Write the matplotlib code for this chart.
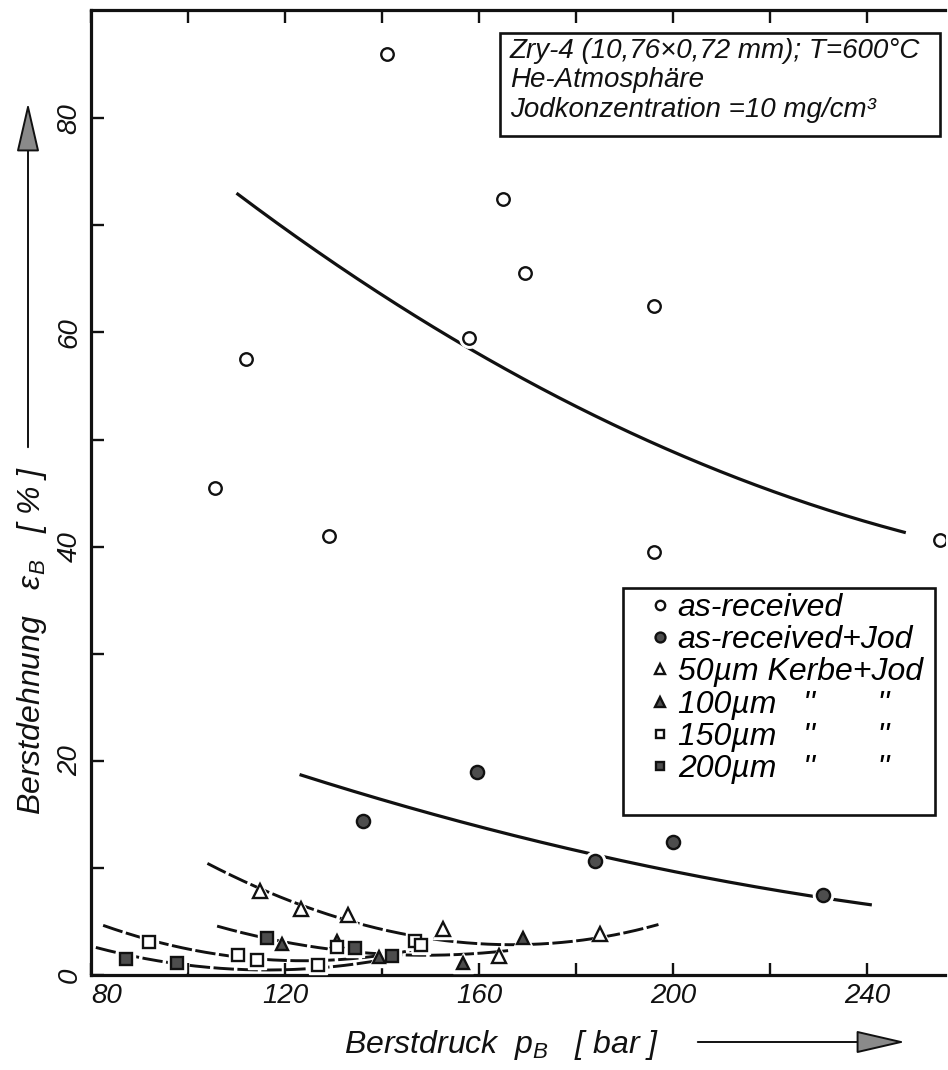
import numpy as np
import matplotlib
matplotlib.use('Agg')
import matplotlib.pyplot as plt
from matplotlib import font_manager as fm
from matplotlib.patches import Rectangle

def has_font(name):
    try:
        fm.findfont(fm.FontProperties(family=name), fallback_to_default=False)
        return True
    except Exception:
        return False

NARROW_OK = has_font('Liberation Sans Narrow')
print('narrow available:', NARROW_OK)

plt.rcParams['font.family'] = ['Liberation Sans', 'DejaVu Sans']
plt.rcParams['font.style'] = 'italic'
plt.rcParams['mathtext.fontset'] = 'custom'
plt.rcParams['mathtext.it'] = 'Liberation Sans:italic'
plt.rcParams['mathtext.rm'] = 'Liberation Sans:italic'
plt.rcParams['mathtext.default'] = 'it'

# ---------------- data ----------------
asr_x = [105.5, 112, 129, 141, 158, 165, 169.5, 196, 196, 255]
asr_y = [45.5, 57.5, 41.0, 86.0, 59.5, 72.5, 65.5, 62.5, 39.5, 40.6]
asr_curve_x = [110, 158, 248]
asr_curve_y = [73.0, 58.5, 41.3]

jod_x = [136, 159.5, 184, 200, 231]
jod_y = [14.4, 19.0, 10.6, 12.4, 7.5]
jod_curve_x = [123, 141, 184, 201, 241]
jod_curve_y = [18.6, 16.4, 11.3, 9.4, 6.6]

k50_x = [114.9, 123.4, 133, 152.6, 164.1, 185]
k50_y = [7.8, 6.2, 5.6, 4.3, 1.8, 3.8]
k50_curve_x = [104, 120, 135, 150, 165, 182, 197]
k50_curve_y = [10.5, 6.9, 4.9, 3.5, 2.9, 3.1, 4.8]

k100_x = [119.3, 130.7, 139.3, 156.8, 169]
k100_y = [2.85, 3.2, 1.7, 1.15, 3.5]
k100_curve_x = [106, 115, 121, 130, 150, 166]
k100_curve_y = [4.5, 3.7, 2.9, 2.4, 1.8, 2.3]

k150_x = [92, 110.4, 114.2, 126.9, 130.8, 146.8, 148]
k150_y = [3.05, 1.87, 1.4, 0.93, 2.6, 3.2, 2.8]
k150_curve_x = [82.5, 90.4, 94.3, 108, 116, 125, 135, 146]
k150_curve_y = [4.6, 3.5, 3.1, 1.7, 1.5, 1.35, 1.55, 2.3]

k200_x = [87.3, 97.7, 116.3, 134.5, 142]
k200_y = [1.5, 1.15, 3.5, 2.55, 1.77]
k200_curve_x = [81, 90, 100, 110, 120, 130, 140]
k200_curve_y = [2.6, 1.6, 0.9, 0.55, 0.5, 0.8, 1.4]

legend_labels = ['as-received', 'as-received+Jod', '50µm Kerbe+Jod',
                 "100µm   ''       ''", "150µm   ''       ''",
                 "200µm   ''       ''"]
x_ticks = [80, 100, 120, 140, 160, 180, 200, 220, 240]
x_tick_labels = ['80', '', '120', '', '160', '', '200', '', '240']
y_ticks = [0, 10, 20, 30, 40, 50, 60, 70, 80]
y_tick_labels = ['0', '', '20', '', '40', '', '60', '', '80']
info_text = ("Zry-4 (10,76×0,72 mm); T=600°C\n"
             "He-Atmosphäre\n"
             "Jodkonzentration =10 mg/cm³")
x_label = r"Berstdruck  $p_B$   [ bar ]"
y_label = r"Berstdehnung   $\varepsilon_B$   [ % ]"

# ---------------- figure ----------------
W, H = 948, 1070
fig = plt.figure(figsize=(W / 100, H / 100), dpi=100)
ax = fig.add_axes([91 / W, 95 / H, 854 / W, 965 / H])
ax.set_xlim(80, 80 + 854 / 4.85)
ax.set_ylim(0, 965 / 10.71)

INK = '#111111'
GREY = '#4d4d4d'

def curve(cx, cy, deg, **kw):
    p = np.polyfit(cx, cy, deg)
    xs = np.linspace(cx[0], cx[-1], 300)
    ax.plot(xs, np.polyval(p, xs), color=INK, zorder=2, **kw)

curve(asr_curve_x, asr_curve_y, 2, lw=2.3, solid_capstyle='butt')
curve(jod_curve_x, jod_curve_y, 2, lw=2.3, solid_capstyle='butt')
dash = dict(lw=2.1, dashes=(7, 1.2))
curve(k50_curve_x, k50_curve_y, 3, **dash)
curve(k100_curve_x, k100_curve_y, 2, **dash)
curve(k150_curve_x, k150_curve_y, 2, **dash)
curve(k200_curve_x, k200_curve_y, 2, **dash)

series = [
    (asr_x, asr_y, 'o', 'white', 9.0),
    (jod_x, jod_y, 'o', GREY, 9.5),
    (k50_x, k50_y, '^', 'white', 9.5),
    (k100_x, k100_y, '^', GREY, 9.0),
    (k150_x, k150_y, 's', 'white', 8.0),
    (k200_x, k200_y, 's', GREY, 8.0),
]
handles = []
for xs, ys, m, fc, ms in series:
    ax.plot(xs, ys, linestyle='none', marker=m, ms=ms + 5, mfc='white',
            mec='white', zorder=3)
    h, = ax.plot(xs, ys, linestyle='none', marker=m, ms=ms, mfc=fc,
                 mec=INK, mew=1.7, zorder=4)
    handles.append(h)

# axes styling
for s in ['left', 'bottom', 'top']:
    ax.spines[s].set_linewidth(2.3)
    ax.spines[s].set_color(INK)
ax.spines['right'].set_visible(False)
tick_family = ['Liberation Sans Narrow', 'Liberation Sans', 'DejaVu Sans'] \
    if NARROW_OK else ['Liberation Sans', 'DejaVu Sans']
tick_size = 23 if NARROW_OK else 20
ax.set_xticks(x_ticks)
ax.set_xticklabels(x_tick_labels, family=tick_family, size=tick_size)
ax.set_yticks(y_ticks)
ax.set_yticklabels(y_tick_labels, rotation=90, va='center',
                   family=tick_family, size=tick_size)
ax.get_xticklabels()[0].set_ha('left')
ax.tick_params(axis='both', direction='in', length=9, width=1.7,
               top=True, right=False, colors=INK)
ax.tick_params(axis='x', pad=6)
ax.tick_params(axis='y', pad=6)

# info box
ax.add_patch(Rectangle((500 / W, 1 - 136 / H), 440 / W, 103 / H,
                       transform=fig.transFigure, fc='white', ec=INK,
                       lw=1.9, zorder=5, clip_on=False))
ax.text(510 / W, 1 - 38 / H, info_text, transform=fig.transFigure,
        ha='left', va='top', fontsize=20, linespacing=1.17, color=INK,
        zorder=6)

# legend (frame drawn as a separate rectangle)
ax.add_patch(Rectangle((623 / W, 1 - 815 / H), 312 / W, 227 / H,
                       transform=fig.transFigure, fc='white', ec=INK,
                       lw=1.9, zorder=5, clip_on=False))
leg = ax.legend(handles, legend_labels, loc='upper left',
                bbox_to_anchor=(649 / W, 1 - 593 / H),
                bbox_transform=fig.transFigure, fontsize=23,
                markerscale=0.75, handlelength=0.7, handletextpad=0.2,
                labelspacing=0.07, borderpad=0.0, borderaxespad=0.0,
                frameon=False)
leg.set_zorder(7)

# axis labels with arrows
fig.text(502 / W, 1 - 1045 / H, x_label, ha='center', va='center',
         fontsize=23, color=INK)
ax.annotate('', xy=(908, H - 1042), xytext=(695, H - 1042),
            xycoords='figure pixels', textcoords='figure pixels',
            arrowprops=dict(arrowstyle='-|>,head_length=1.3,head_width=0.3',
                            mutation_scale=24, lw=1.4, fc='#8a8a8a', ec=INK))
fig.text(32 / W, 1 - 640 / H, y_label, ha='center', va='center',
         rotation=90, fontsize=23, color=INK)
ax.annotate('', xy=(28, H - 100), xytext=(28, H - 450),
            xycoords='figure pixels', textcoords='figure pixels',
            arrowprops=dict(arrowstyle='-|>,head_length=1.3,head_width=0.3',
                            mutation_scale=24, lw=1.4, fc='#8a8a8a', ec=INK))

fig.savefig('out.png', dpi=100)
